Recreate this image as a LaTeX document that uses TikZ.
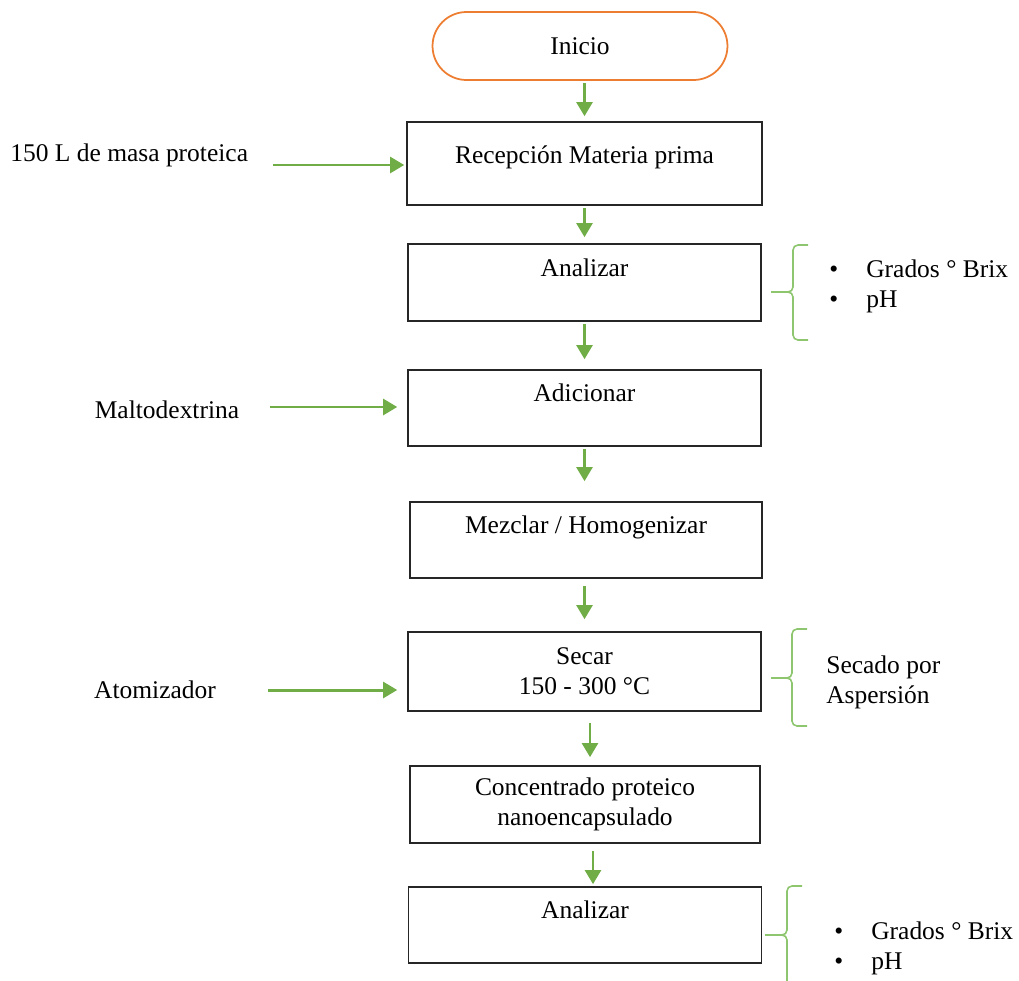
\documentclass[tikz,border=0pt]{standalone}
\usepackage{fontspec}
\setmainfont{Liberation Serif}
\usepackage{tikz}
\usetikzlibrary{arrows.meta}
\definecolor{flowgreen}{HTML}{70AD47}
\definecolor{bracegreen}{HTML}{8DC66E}
\definecolor{startorange}{HTML}{ED7D31}
\newcommand{\itm}{\makebox[0.74cm][l]{\textbullet}}
% line x, tip x, top y, middle y, bottom y
\newcommand{\sidebrace}[5]{%
  \draw[brc] (#1+15,#3) -- (#1,#3) -- (#1,#4) -- (#2,#4);
  \draw[brc] (#2,#4) -- (#1,#4) -- (#1,#5) -- (#1+15,#5);}

\begin{document}
\begin{tikzpicture}[x=0.02cm,y=-0.02cm,
  font=\fontsize{14.5}{17}\selectfont,
  box/.style={draw=black!85,line width=0.9pt,minimum width=7.06cm,minimum height=1.54cm,align=center,inner sep=2pt},
  one/.style={text height=0.35cm,text depth=0.61cm},
  txt/.style={inner sep=0pt},
  flow/.style={-{Triangle[width=9pt,length=8pt]},flowgreen,line width=1.7pt},
  brc/.style={bracegreen,line width=0.9pt,rounded corners=0.1cm}]
\useasboundingbox (0,0) rectangle (1019,981);
\node [draw=startorange,line width=1pt,rounded corners=0.68cm,minimum width=5.9cm,minimum height=1.36cm] (ini) at (580,46) {Inicio};
\node [box,minimum width=7.1cm,minimum height=1.66cm,text height=0.35cm,text depth=0.35cm] (rec) at (584.5,163.5) {Recepción Materia prima};
\node [box,one] (an1) at (584.5,282.5) {Analizar};
\node [box,one,minimum height=1.52cm] (adi) at (584.5,408) {Adicionar};
\node [box,one,minimum height=1.52cm,minimum width=7.04cm] (mez) at (586,540) {Mezclar / Homogenizar};
\node [box,minimum height=1.58cm] (sec) at (584.5,671.5) {Secar\\150 - 300 °C};
\node [box,minimum width=7cm] (con) at (585,804.5) {Concentrado proteico\\nanoencapsulado};
\node [box,one,minimum height=1.52cm] (an2) at (585,925) {Analizar};
\draw [flow,shorten <=0.04cm,shorten >=0.1cm] (ini.south -| rec) -- (rec);
\draw [flow,shorten <=0.04cm,shorten >=0.12cm] (rec) -- (an1);
\draw [flow,shorten <=0.04cm,shorten >=0.2cm] (an1) -- (adi);
\draw [flow,shorten <=0.04cm,shorten >=0.4cm] (adi) -- (mez.north -| adi);
\draw [flow,shorten <=0.14cm,shorten >=0.24cm] (mez.south -| adi) -- (sec);
\draw [flow,shorten <=0.22cm,shorten >=0.16cm] ([xshift=0.11cm]sec.south) -- ([xshift=0.11cm]sec.south |- con.north);
\draw [flow,shorten <=0.14cm,shorten >=0.04cm] ([xshift=0.16cm]con.south) -- ([xshift=0.16cm]an2.north);
% entradas
\node [txt,anchor=west] (t1) at (10,155) {150 L de masa proteica};
\coordinate (s1) at (273,165);
\draw [flow,shorten >=0.04cm] (s1) -- (s1 -| rec.west);
\node [txt] (t2) at (167,410) {Maltodextrina};
\coordinate (s2) at (270,407);
\draw [flow,shorten >=0.2cm] (s2) -- (s2 -| adi.west);
\node [txt] (t3) at (155,690) {Atomizador};
\coordinate (s3) at (268,690);
\draw [flow,shorten >=0.2cm] (s3) -- (s3 -| sec.west);
% llaves
\sidebrace{793}{771}{245}{292}{340}
\node [txt,anchor=west,align=left] (l1) at (829,286) {\itm Grados ° Brix\\\itm pH};
\sidebrace{792}{771}{629}{678}{726}
\node [txt,anchor=west,align=left] (l2) at (826,682) {Secado por\\Aspersión};
\sidebrace{787}{765}{886}{935}{990}
\node [txt,anchor=west,align=left] (l3) at (834,948) {\itm Grados ° Brix\\\itm pH};
\end{tikzpicture}
\end{document}
